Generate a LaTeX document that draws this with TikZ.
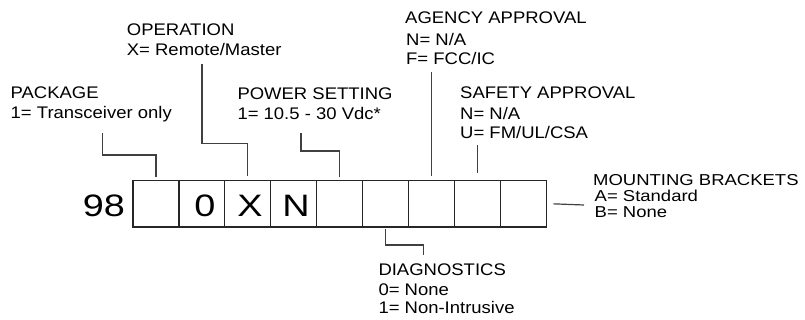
\documentclass[tikz,border=0pt]{standalone}
\usepackage{fontspec}
\setmainfont{Liberation Sans}
\newfontfamily\lblfont{Liberation Sans}[FakeStretch=1.1]
\newfontfamily\mtfont{Liberation Sans}[FakeStretch=1.17]
\newfontfamily\digfont{Liberation Sans}[FakeStretch=1.22]
\usetikzlibrary{calc}
\begin{document}
\begin{tikzpicture}[x=1pt,y=-1pt,
  cell/.style={draw=black!85,line width=1.2pt,minimum width=45.9pt,minimum height=46.3pt,inner sep=0pt,outer sep=0pt},
  conn/.style={draw=black!75,line width=1.2pt},
  lbl/.style={anchor=base west,inner sep=0pt,font=\lblfont\fontsize{16.8}{19}\selectfont},
  mtlbl/.style={anchor=base west,inner sep=0pt,font=\mtfont\fontsize{15.8}{16}\selectfont},
  dig/.style={anchor=base,inner sep=0pt,font=\digfont\fontsize{31}{31}\selectfont}]
\useasboundingbox (0,0) rectangle (805,320);
% boxes
\foreach \i in {1,...,9}{
  \node[cell] (b\i) at ({133+(\i-0.5)*45.9},203.85) {};
}
% digits
\node[dig] (n98) at (104,216.5) {98};
\node[dig] (d0) at (205,216.5) {0};
\node[dig] (dX) at (250,216.5) {X};
\node[dig] (dN) at (296,216.5) {N};
% labels
\node[lbl] (pk1) at (10.5,98.5) {PACKAGE};
\node[lbl] (pk2) at (10.5,119) {1= Transceiver only};
\node[lbl] (op1) at (126.7,36) {OPERATION};
\node[lbl] (op2) at (126.7,55.5) {X= Remote/Master};
\node[lbl] (pw1) at (237.3,100) {POWER SETTING};
\node[lbl] (pw2) at (237.3,119.3) {1= 10.5 - 30 Vdc*};
\node[lbl] (ag1) at (405,24) {AGENCY APPROVAL};
\node[lbl] (ag2) at (406,46) {N= N/A};
\node[lbl] (ag3) at (406,64.5) {F= FCC/IC};
\node[lbl] (sf1) at (460,98.7) {SAFETY APPROVAL};
\node[lbl] (sf2) at (460,119.3) {N= N/A};
\node[lbl] (sf3) at (460,138.7) {U= FM/UL/CSA};
\node[mtlbl] (mt1) at (593,186) {MOUNTING BRACKETS};
\node[mtlbl] (mt2) at (594.5,202) {A= Standard};
\node[mtlbl] (mt3) at (594.5,217.5) {B= None};
\node[lbl] (dg1) at (378.3,275) {DIAGNOSTICS};
\node[lbl] (dg2) at (378.3,295) {0= None};
\node[lbl] (dg3) at (378.3,313.3) {1= Non-Intrusive};
% connector free ends
\coordinate (pkend) at (102.7,133);
\coordinate (opend) at (202,64);
\coordinate (pwend) at (301,133);
\coordinate (agend) at (432.3,71.7);
\coordinate (sfend) at (477,145.3);
\coordinate (dgend) at (423.7,255);
\coordinate (mtend) at (584,205);
% connectors
\draw[conn] ($(b1.north)+(0,-3.5)$) |- (pkend |- 0,155) -- (pkend);
\draw[conn] ($(b3.north)+(0,-4.5)$) |- (opend |- 0,143.3) -- (opend);
\draw[conn] ($(b5.north)+(0,-3.5)$) |- (pwend |- 0,151) -- (pwend);
\draw[conn] ($(b6.south)+(0,2.5)$) |- (dgend |- 0,245) -- (dgend);
\draw[conn] ($(b7.north)+(0,-4.5)$) -- (b7.north |- agend);
\draw[conn] ($(b8.north)+(0,-7.5)$) -- (b8.north |- sfend);
\draw[conn] ($(b9.east)+(7.3,0)$) -- (mtend);
\end{tikzpicture}
\end{document}
